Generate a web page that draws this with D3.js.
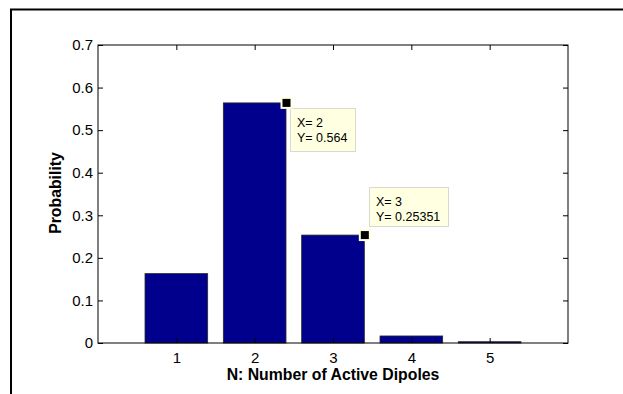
<!DOCTYPE html>
<html><head><meta charset="utf-8">
<script src="https://cdn.jsdelivr.net/npm/d3@7"></script>
<style>body{margin:0;background:#fff}svg{display:block}text{font-family:"Liberation Sans",Arial,sans-serif}</style>
</head><body>
<script>
const categories = [1, 2, 3, 4, 5];
const probabilities = [0.163, 0.564, 0.25351, 0.0165, 0.003];
const yTicks = [0, 0.1, 0.2, 0.3, 0.4, 0.5, 0.6, 0.7];
const xTicks = [1, 2, 3, 4, 5];
const dataTips = [{x: 2, y: 0.564, label: ["X= 2", "Y= 0.564"]},
                  {x: 3, y: 0.25351, label: ["X= 3", "Y= 0.25351"]}];

const W = 623, H = 394;
const svg = d3.select("body").append("svg").attr("width", W).attr("height", H);
const L = 98, R = 568, T = 45, B = 343;
const x = d3.scaleLinear().domain([0, 6]).range([L, R]);
const y = d3.scaleLinear().domain([0, 0.7]).range([B, T]);
const FONT = "Liberation Sans, Arial, sans-serif";

// outer frame
svg.append("path").attr("d", `M11,${H} V9.5 H${W}`).attr("fill", "none").attr("stroke", "#000").attr("stroke-width", 2);

// bars
const bw = 0.8;
svg.selectAll("rect.bar").data(categories).enter().append("rect")
  .attr("x", (d) => x(d - bw/2)).attr("width", x(bw) - x(0))
  .attr("y", (d, i) => y(probabilities[i]))
  .attr("height", (d, i) => y(0) - y(probabilities[i]))
  .attr("fill", "#00008C").attr("stroke", "#2a2a2a").attr("stroke-width", 0.8);

// axes
const tickLen = 5;
const gl = svg.append("g").attr("transform", `translate(${L},0)`).call(d3.axisLeft(y).tickValues(yTicks).tickSize(-tickLen).tickPadding(5).tickFormat(d3.format("~g")));
const gr = svg.append("g").attr("transform", `translate(${R},0)`).call(d3.axisRight(y).tickValues(yTicks).tickSize(-tickLen).tickFormat(""));
const gb = svg.append("g").attr("transform", `translate(0,${B})`).call(d3.axisBottom(x).tickValues(xTicks).tickSize(-tickLen).tickPadding(9).tickFormat(d3.format("d")));
const gt = svg.append("g").attr("transform", `translate(0,${T})`).call(d3.axisTop(x).tickValues(xTicks).tickSize(-tickLen).tickFormat(""));
[gl, gr, gb, gt].forEach(g => {
  g.select(".domain").remove();
  g.selectAll(".tick line").attr("stroke", "#000").attr("stroke-width", 1);
  g.selectAll("text").attr("font-size", 15).attr("fill", "#000").attr("font-family", FONT);
});
svg.append("rect").attr("x", L).attr("y", T).attr("width", R - L).attr("height", B - T)
  .attr("fill", "none").attr("stroke", "#000").attr("stroke-width", 1);

// labels
svg.append("text").attr("x", (L + R) / 2).attr("y", 379.5).attr("text-anchor", "middle")
  .attr("font-size", 15.8).attr("font-weight", "bold").text("N: Number of Active Dipoles");
svg.append("text").attr("transform", `translate(60.5,${(T + B) / 2 - 1}) rotate(-90)`).attr("text-anchor", "middle")
  .attr("font-size", 15.8).attr("font-weight", "bold").text("Probability");

// data tips
const tipBoxes = [{dx: 4, dy: 5, w: 65, h: 43, l1: 19, l2: 34},
                  {dx: 5, dy: -48, w: 79, h: 39, l1: 18.5, l2: 33.5}];
dataTips.forEach((t, i) => {
  const px = x(t.x + bw/2), py = y(t.y);
  const b = tipBoxes[i];
  const bx = Math.round(px + b.dx), by = Math.round(py + b.dy);
  svg.append("rect").attr("x", bx + 0.5).attr("y", by + 0.5).attr("width", b.w).attr("height", b.h)
    .attr("fill", "#FFFFE1").attr("stroke", "#d9d9d0").attr("stroke-width", 1);
  svg.append("text").attr("x", bx + 7).attr("y", by + b.l1).attr("font-size", 12.5).text(t.label[0]);
  svg.append("text").attr("x", bx + 7).attr("y", by + b.l2).attr("font-size", 12.5).text(t.label[1]);
  svg.append("rect").attr("x", px - 5.5).attr("y", py - 6).attr("width", 12).attr("height", 12).attr("fill", "#FFFFE1");
  svg.append("rect").attr("x", px - 3.5).attr("y", py - 4).attr("width", 8).attr("height", 8).attr("fill", "#000");
});
</script>
</body></html>
